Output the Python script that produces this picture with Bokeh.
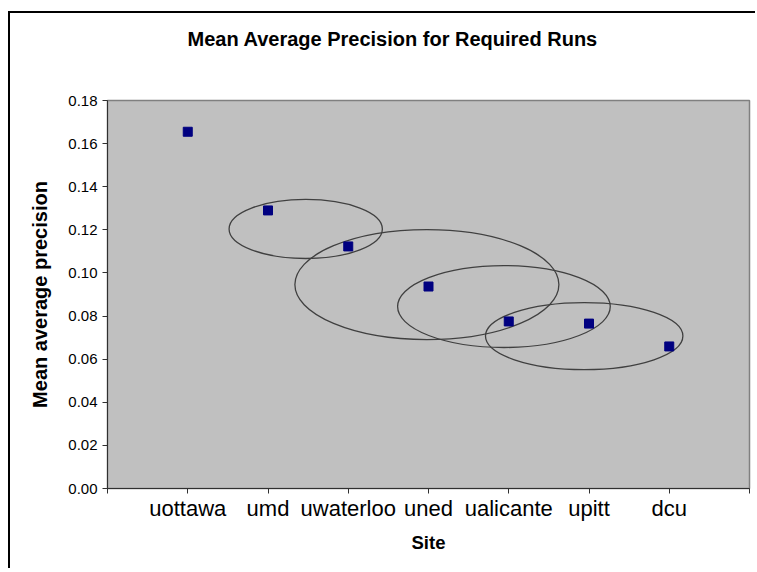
from bokeh.plotting import figure
from bokeh.models import Range1d, FixedTicker, NumeralTickFormatter, Title
from bokeh.embed import file_html
from bokeh.resources import INLINE

# ---- data ----
sites = ["uottawa", "umd", "uwaterloo", "uned", "ualicante", "upitt", "dcu"]
map_values = [0.1655, 0.129, 0.1123, 0.0937, 0.0775, 0.0765, 0.0659]
y_ticks = [0.00, 0.02, 0.04, 0.06, 0.08, 0.10, 0.12, 0.14, 0.16, 0.18]
title_text = "Mean Average Precision for Required Runs"

# grouping ellipses (data coords: center x, center y, width, height)
ell_x = [2.47, 3.98, 4.94, 5.94]
ell_y = [0.1204, 0.0946, 0.0844, 0.0707]
ell_w = [1.91, 3.29, 2.65, 2.46]
ell_h = [0.0274, 0.051, 0.038, 0.0311]

positions = list(range(1, len(sites) + 1))

FONT = "Liberation Sans"

p = figure(
    frame_width=642, frame_height=388,
    x_range=Range1d(0, len(sites) + 1), y_range=Range1d(0, 0.18),
    output_backend="svg", toolbar_location=None,
    min_border_left=97, min_border_right=6, min_border_top=87, min_border_bottom=80,
    background_fill_color="#C0C0C0", border_fill_color="white",
    outline_line_color="#808080", outline_line_width=1.5,
)
p.styles = {"border-top": "2px solid black", "border-left": "2px solid black"}
p.margin = (11, 0, 0, 8)

# spacer (closest to frame), then the real title above it
spacer = Title(text=" ", text_font=FONT, text_font_size="10px", standoff=26)
p.add_layout(spacer, "above")
t = Title(text=title_text, align="left", offset=80,
          text_font=FONT, text_font_size="20px", text_font_style="bold",
          text_color="black", standoff=24)
p.add_layout(t, "above")

p.xgrid.visible = False
p.ygrid.visible = False

# ellipses
p.ellipse(x=ell_x, y=ell_y, width=ell_w, height=ell_h,
          fill_color=None, line_color="#404040", line_width=1.3)

# points
p.scatter(x=positions, y=map_values, marker="square", size=9,
          fill_color="#000080", line_color="#000080")

# x axis
xa = p.xaxis[0]
xa.ticker = FixedTicker(ticks=list(range(0, len(sites) + 2)))
overrides = {0: "", len(sites) + 1: ""}
for i, s in zip(positions, sites):
    overrides[i] = s
xa.major_label_overrides = overrides
xa.minor_tick_line_color = None
xa.major_tick_in = 0
xa.major_tick_out = 5
xa.major_label_standoff = 2
xa.major_label_text_font = FONT
xa.major_label_text_font_size = "22px"
xa.major_label_text_color = "black"
xa.axis_label = "Site"
xa.axis_label_text_font = FONT
xa.axis_label_text_font_size = "18.5px"
xa.axis_label_text_font_style = "bold"
xa.axis_label_text_color = "black"
xa.axis_label_standoff = 8
xa.axis_line_color = "#303030"
xa.major_tick_line_color = "#303030"

# y axis
ya = p.yaxis[0]
ya.ticker = FixedTicker(ticks=y_ticks)
ya.formatter = NumeralTickFormatter(format="0.00")
ya.minor_tick_line_color = None
ya.major_tick_in = 0
ya.major_tick_out = 5
ya.major_label_standoff = 5
ya.major_label_text_font = FONT
ya.major_label_text_font_size = "15px"
ya.major_label_text_color = "black"
ya.axis_label = "Mean average precision"
ya.axis_label_text_font = FONT
ya.axis_label_text_font_size = "20px"
ya.axis_label_text_font_style = "bold"
ya.axis_label_text_color = "black"
ya.axis_label_standoff = 14
ya.axis_line_color = "#303030"
ya.major_tick_line_color = "#303030"

open("out.html", "w").write(file_html(p, INLINE))
